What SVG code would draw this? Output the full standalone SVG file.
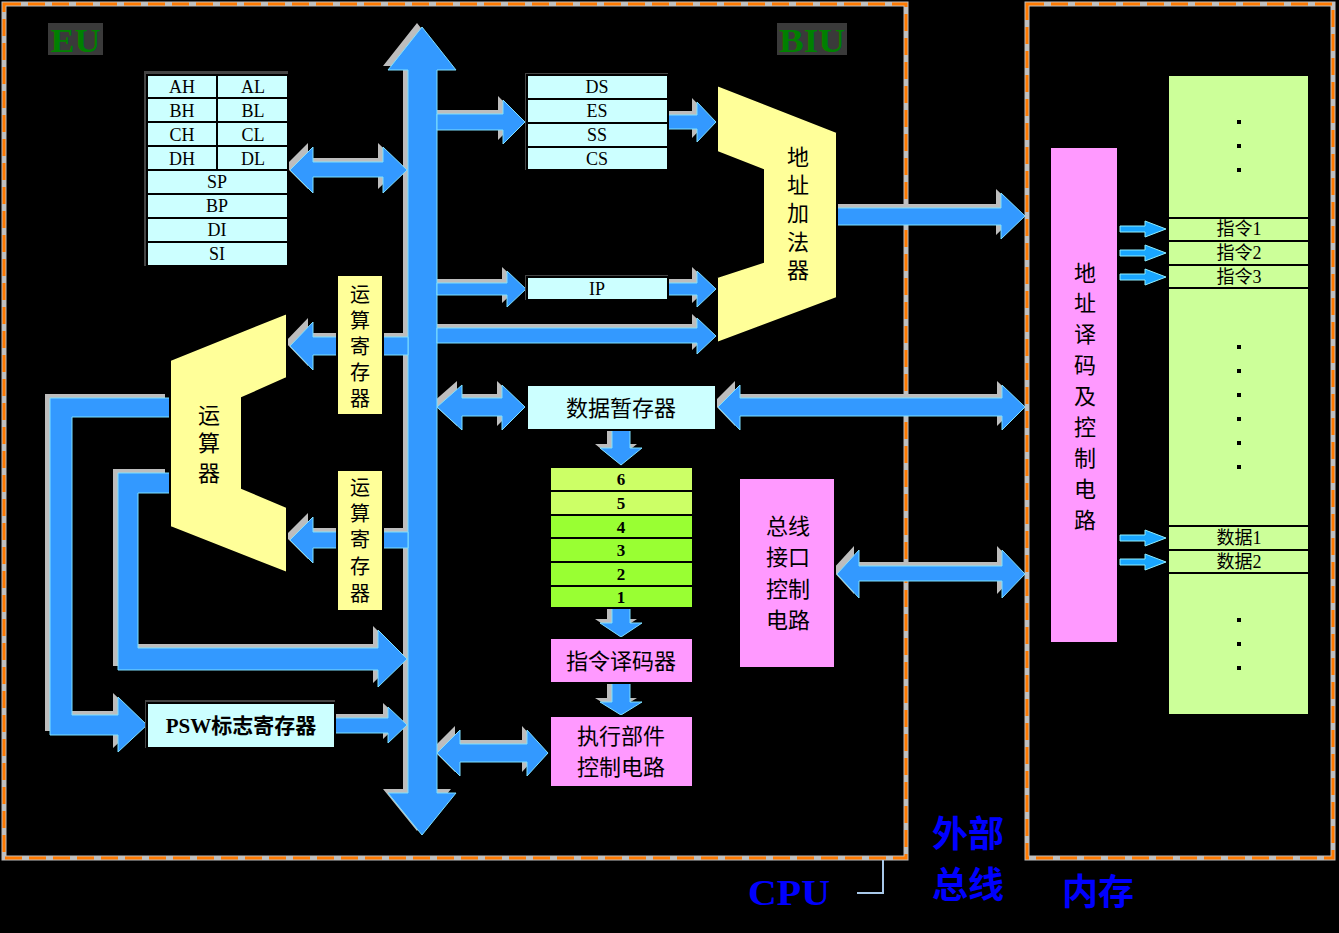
<svg xmlns="http://www.w3.org/2000/svg" width="1339" height="933" viewBox="0 0 1339 933">
<defs>
<style>
.bg{fill:#000}
.frameG{fill:none;stroke:#C0C0C0;stroke-width:5}
.frameO{fill:none;stroke:#FF7A00;stroke-width:3;stroke-dasharray:17 7}
.cy{fill:#CCFFFF;stroke:#000;stroke-width:2}
.yl{fill:#FFFF99;stroke:#000;stroke-width:2}
.pk{fill:#FF99FF;stroke:#000;stroke-width:2}
.mg{fill:#CCFF99;stroke:#000;stroke-width:2}
.q1{fill:#CCFF66;stroke:#000;stroke-width:2}
.q2{fill:#99FF33;stroke:#000;stroke-width:2}
.sh{fill:#444}
.t{font-family:"Liberation Serif","Noto Sans CJK SC",serif;fill:#000;text-anchor:middle;dominant-baseline:central}
.r{font-size:18px}
.c{font-size:22px}
.b{font-weight:bold}
.lab{font-family:"Liberation Serif","Noto Sans CJK SC",serif;fill:#0000FF;font-weight:bold;text-anchor:middle;dominant-baseline:central}
.unit{font-family:"Liberation Serif",serif;fill:#008000;font-weight:bold;font-size:34px;text-anchor:middle;dominant-baseline:central}
.ar{fill:#3399FF;stroke:#7FE0FF;stroke-width:1}
.arS{fill:#BDBDBD}
.sm{fill:#19A6FF;stroke:#8FEFFF;stroke-width:1}
.dot{fill:#000}
</style>
<g id="arrowShapes">
<polygon id="a1" points="422,27 456,70 437,70 437,793 456,793 422,835 388,793 408,793 408,70 388,70"/>
<polygon id="a2" points="290,170 313,147 313,162 383,162 383,147 407,170 383,193 383,177 313,177 313,193"/>
<polygon id="a3" points="437,114 503,114 503,100 525,122 503,144 503,130 437,130"/>
<polygon id="a4" points="668,115 697,115 697,102 716,122 697,142 697,129 668,129"/>
<polygon id="a5" points="837,208 1001,208 1001,193 1025,216 1001,239 1001,225 837,225"/>
<polygon id="a6" points="437,283 507,283 507,271 526,289 507,307 507,295 437,295"/>
<polygon id="a7" points="668,283 697,283 697,271 716,289 697,307 697,295 668,295"/>
<polygon id="a8" points="437,328 697,328 697,318 716,336 697,354 697,343 437,343"/>
<polygon id="a9" points="408,337 337,337 313,337 313,322 290,346 313,370 313,355 408,355"/>
<polygon id="a10" points="408,532 313,532 313,517 290,540 313,563 313,548 408,548"/>
<polygon id="a11" points="170,398 50,398 50,735 118,735 118,752 147,725 118,697 118,715 72,715 72,417 170,417"/>
<polygon id="a12" points="170,473 118,473 118,670 378,670 378,687 407,659 378,630 378,648 138,648 138,493 170,493"/>
<polygon id="a13" points="335,718 388,718 388,707 407,725 388,743 388,733 335,733"/>
<polygon id="a14" points="437,407 462,385 462,398 502,398 502,385 525,407 502,430 502,416 462,416 462,430"/>
<polygon id="a15" points="718,407 740,385 740,398 1002,398 1002,385 1025,407 1002,430 1002,416 740,416 740,430"/>
<polygon id="a16" points="612,430 630,430 630,448 642,448 621,465 600,448 612,448"/>
<polygon id="a17" points="612,608 630,608 630,623 642,623 621,637 600,623 612,623"/>
<polygon id="a18" points="612,683 630,683 630,702 642,702 621,715 600,702 612,702"/>
<polygon id="a19" points="437,753 460,730 460,744 527,744 527,730 548,753 527,776 527,762 460,762 460,776"/>
<polygon id="a20" points="837,574 859,550 859,566 1002,566 1002,550 1025,574 1002,598 1002,581 859,581 859,598"/>
</g>
</defs>
<rect class="bg" x="0" y="0" width="1339" height="933"/>

<g id="frames">
<rect class="frameG" x="4" y="4" width="902" height="854"/>
<rect class="frameO" x="4" y="4" width="902" height="854"/>
<rect class="frameG" x="1027" y="4" width="306" height="854"/>
<rect class="frameO" x="1027" y="4" width="306" height="854"/>
<polyline points="883,860 883,893 857,893" fill="none" stroke="#A8C8E8" stroke-width="2"/>
</g>

<g id="labels">
<rect x="48" y="23" width="55" height="32" fill="#3a3a3a"/>
<text class="unit" x="75.5" y="40" textLength="50" lengthAdjust="spacingAndGlyphs">EU</text>
<rect x="777" y="23" width="70" height="32" fill="#3a3a3a"/>
<text class="unit" x="812" y="40" textLength="66" lengthAdjust="spacingAndGlyphs">BIU</text>
<text class="lab" x="789" y="893" font-size="36" textLength="82" lengthAdjust="spacingAndGlyphs">CPU</text>
<text class="lab" x="968" y="835" font-size="36">外部</text>
<text class="lab" x="968" y="886" font-size="36">总线</text>
<text class="lab" x="1098" y="893" font-size="36">内存</text>
</g>

<g id="connectors">
<g class="arS" transform="translate(-5,-4)">
<use href="#a1"/><use href="#a2"/><use href="#a3"/><use href="#a4"/><use href="#a5"/>
<use href="#a6"/><use href="#a7"/><use href="#a8"/><use href="#a9"/><use href="#a10"/>
<use href="#a11"/><use href="#a12"/><use href="#a13"/><use href="#a14"/><use href="#a15"/>
<use href="#a16"/><use href="#a17"/><use href="#a18"/><use href="#a19"/><use href="#a20"/>
</g>
<g class="ar">
<use href="#a1"/><use href="#a2"/><use href="#a3"/><use href="#a4"/><use href="#a5"/>
<use href="#a6"/><use href="#a7"/><use href="#a8"/><use href="#a9"/><use href="#a10"/>
<use href="#a11"/><use href="#a12"/><use href="#a13"/><use href="#a14"/><use href="#a15"/>
<use href="#a16"/><use href="#a17"/><use href="#a18"/><use href="#a19"/><use href="#a20"/>
</g>
<g class="sm">
<polygon points="1120,226 1145,226 1145,221 1166,229 1145,237 1145,232 1120,232"/>
<polygon points="1120,250 1145,250 1145,245 1166,253 1145,261 1145,256 1120,256"/>
<polygon points="1120,274 1145,274 1145,269 1166,277 1145,285 1145,280 1120,280"/>
<polygon points="1120,535 1145,535 1145,530 1166,538 1145,546 1145,541 1120,541"/>
<polygon points="1120,559 1145,559 1145,554 1166,562 1145,570 1145,565 1120,565"/>
</g>
</g>

<g id="gpRegs">
<rect class="sh" x="144" y="71" width="144" height="195"/>
<rect class="cy" x="147" y="75" width="70" height="23"/><rect class="cy" x="217" y="75" width="71" height="23"/>
<rect class="cy" x="147" y="98" width="70" height="24"/><rect class="cy" x="217" y="98" width="71" height="24"/>
<rect class="cy" x="147" y="122" width="70" height="24"/><rect class="cy" x="217" y="122" width="71" height="24"/>
<rect class="cy" x="147" y="146" width="70" height="24"/><rect class="cy" x="217" y="146" width="71" height="24"/>
<rect class="cy" x="147" y="170" width="141" height="24"/>
<rect class="cy" x="147" y="194" width="141" height="24"/>
<rect class="cy" x="147" y="218" width="141" height="24"/>
<rect class="cy" x="147" y="242" width="141" height="24"/>
<text class="t r" x="182" y="87">AH</text><text class="t r" x="253" y="87">AL</text>
<text class="t r" x="182" y="111">BH</text><text class="t r" x="253" y="111">BL</text>
<text class="t r" x="182" y="135">CH</text><text class="t r" x="253" y="135">CL</text>
<text class="t r" x="182" y="159">DH</text><text class="t r" x="253" y="159">DL</text>
<text class="t r" x="217" y="182">SP</text>
<text class="t r" x="217" y="206">BP</text>
<text class="t r" x="217" y="230">DI</text>
<text class="t r" x="217" y="254">SI</text>
</g>

<g id="segRegs">
<rect class="sh" x="525" y="73" width="143" height="97"/>
<rect class="cy" x="527" y="75" width="141" height="24"/>
<rect class="cy" x="527" y="99" width="141" height="24"/>
<rect class="cy" x="527" y="123" width="141" height="24"/>
<rect class="cy" x="527" y="147" width="141" height="23"/>
<text class="t r" x="597" y="87">DS</text>
<text class="t r" x="597" y="111">ES</text>
<text class="t r" x="597" y="135">SS</text>
<text class="t r" x="597" y="159">CS</text>
</g>

<g id="ipReg">
<rect class="sh" x="525" y="275" width="143" height="25"/>
<rect class="cy" x="527" y="277" width="141" height="23"/>
<text class="t r" x="597" y="289">IP</text>
</g>

<g id="addrAdder">
<polygon class="yl" points="717,85 837,132 837,298 717,343 717,277 763,262 763,170 717,152"/>
<text class="t c" x="798" y="157">地</text>
<text class="t c" x="798" y="185">址</text>
<text class="t c" x="798" y="213">加</text>
<text class="t c" x="798" y="242">法</text>
<text class="t c" x="798" y="270">器</text>
</g>

<g id="aluRegUpper">
<rect class="yl" x="337" y="275" width="46" height="140"/>
<text class="t" font-size="20" x="360" y="295">运</text>
<text class="t" font-size="20" x="360" y="321">算</text>
<text class="t" font-size="20" x="360" y="347">寄</text>
<text class="t" font-size="20" x="360" y="373">存</text>
<text class="t" font-size="20" x="360" y="399">器</text>
</g>

<g id="aluRegLower">
<rect class="yl" x="337" y="470" width="46" height="141"/>
<text class="t" font-size="20" x="360" y="488">运</text>
<text class="t" font-size="20" x="360" y="514">算</text>
<text class="t" font-size="20" x="360" y="540">寄</text>
<text class="t" font-size="20" x="360" y="567">存</text>
<text class="t" font-size="20" x="360" y="594">器</text>
</g>

<g id="alu">
<polygon class="yl" points="287,313 287,378 242,398 242,488 287,507 287,573 170,527 170,360"/>
<text class="t c" x="209" y="415">运</text>
<text class="t c" x="209" y="443">算</text>
<text class="t c" x="209" y="473">器</text>
</g>

<g id="psw">
<rect class="sh" x="145" y="700" width="190" height="48"/>
<rect class="cy" x="147" y="703" width="188" height="45"/>
<text class="t b" font-size="21" x="241" y="726">PSW标志寄存器</text>
</g>

<g id="dataBuf">
<rect class="cy" x="527" y="385" width="189" height="45"/>
<text class="t c" x="621" y="408">数据暂存器</text>
</g>

<g id="queue">
<rect class="q1" x="550" y="467" width="143" height="24"/>
<rect class="q1" x="550" y="491" width="143" height="24"/>
<rect class="q2" x="550" y="515" width="143" height="23"/>
<rect class="q2" x="550" y="538" width="143" height="24"/>
<rect class="q2" x="550" y="562" width="143" height="24"/>
<rect class="q2" x="550" y="586" width="143" height="22"/>
<text class="t b" font-size="17" x="621" y="479">6</text>
<text class="t b" font-size="17" x="621" y="503">5</text>
<text class="t b" font-size="17" x="621" y="527">4</text>
<text class="t b" font-size="17" x="621" y="550">3</text>
<text class="t b" font-size="17" x="621" y="574">2</text>
<text class="t b" font-size="17" x="621" y="597">1</text>
</g>

<g id="instrDecoder">
<rect class="pk" x="550" y="638" width="143" height="45"/>
<text class="t c" x="621" y="661">指令译码器</text>
</g>

<g id="execCtrl">
<rect class="pk" x="550" y="716" width="143" height="71"/>
<text class="t c" x="621" y="736">执行部件</text>
<text class="t c" x="621" y="767">控制电路</text>
</g>

<g id="busCtrl">
<rect class="pk" x="739" y="478" width="96" height="190"/>
<text class="t c" x="788" y="526">总线</text>
<text class="t c" x="788" y="557">接口</text>
<text class="t c" x="788" y="589">控制</text>
<text class="t c" x="788" y="620">电路</text>
</g>

<g id="memDecoder">
<rect class="pk" x="1050" y="147" width="68" height="496"/>
<text class="t c" x="1085" y="273">地</text>
<text class="t c" x="1085" y="303">址</text>
<text class="t c" x="1085" y="334">译</text>
<text class="t c" x="1085" y="365">码</text>
<text class="t c" x="1085" y="396">及</text>
<text class="t c" x="1085" y="427">控</text>
<text class="t c" x="1085" y="458">制</text>
<text class="t c" x="1085" y="489">电</text>
<text class="t c" x="1085" y="520">路</text>
</g>

<g id="memory">
<rect class="mg" x="1168" y="75" width="141" height="640"/>
<rect class="mg" x="1168" y="218" width="141" height="23"/>
<rect class="mg" x="1168" y="241" width="141" height="24"/>
<rect class="mg" x="1168" y="265" width="141" height="23"/>
<rect class="mg" x="1168" y="526" width="141" height="24"/>
<rect class="mg" x="1168" y="550" width="141" height="23"/>
<text class="t r" x="1239" y="229">指令1</text>
<text class="t r" x="1239" y="253">指令2</text>
<text class="t r" x="1239" y="277">指令3</text>
<text class="t r" x="1239" y="538">数据1</text>
<text class="t r" x="1239" y="562">数据2</text>
<rect class="dot" x="1237" y="120" width="4" height="4"/>
<rect class="dot" x="1237" y="144" width="4" height="4"/>
<rect class="dot" x="1237" y="168" width="4" height="4"/>
<rect class="dot" x="1237" y="345" width="4" height="4"/>
<rect class="dot" x="1237" y="369" width="4" height="4"/>
<rect class="dot" x="1237" y="393" width="4" height="4"/>
<rect class="dot" x="1237" y="417" width="4" height="4"/>
<rect class="dot" x="1237" y="441" width="4" height="4"/>
<rect class="dot" x="1237" y="465" width="4" height="4"/>
<rect class="dot" x="1237" y="618" width="4" height="4"/>
<rect class="dot" x="1237" y="642" width="4" height="4"/>
<rect class="dot" x="1237" y="666" width="4" height="4"/>
</g>
</svg>
